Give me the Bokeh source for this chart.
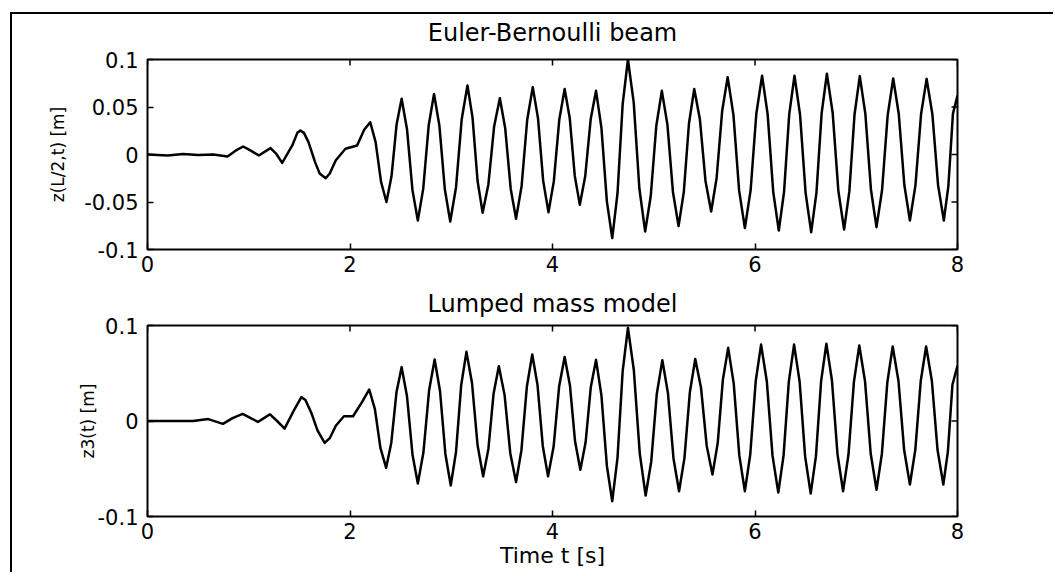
from bokeh.plotting import figure
from bokeh.layouts import column
from bokeh.models import FixedTicker, LinearAxis, Range1d
from bokeh.embed import file_html
from bokeh.resources import INLINE

# ---- data ----
t_beam = [0.00, 0.20, 0.35, 0.50, 0.65, 0.79, 0.87, 0.945, 1.02, 1.10, 1.16, 1.215, 1.27, 1.33,
          1.43, 1.48, 1.51, 1.545, 1.59, 1.655, 1.70, 1.76, 1.80, 1.86, 1.955, 2.07, 2.14, 2.20,
          2.253, 2.307, 2.36, 2.41, 2.46, 2.51, 2.563, 2.617, 2.67, 2.723, 2.777, 2.83,
          2.883, 2.937, 2.99, 3.047, 3.103, 3.16, 3.21, 3.26, 3.31, 3.367, 3.423, 3.48,
          3.533, 3.587, 3.64, 3.695, 3.75, 3.805, 3.857, 3.908, 3.96, 4.013, 4.067, 4.12,
          4.17, 4.22, 4.27, 4.323, 4.377, 4.43, 4.483, 4.537, 4.59, 4.642, 4.693, 4.745,
          4.802, 4.858, 4.915, 4.97, 5.025, 5.08, 5.135, 5.19, 5.245, 5.297, 5.348, 5.40,
          5.456, 5.511, 5.567, 5.621, 5.676, 5.73, 5.787, 5.843, 5.90, 5.957, 6.013, 6.07,
          6.125, 6.18, 6.235, 6.287, 6.338, 6.39, 6.445, 6.50, 6.555, 6.607, 6.658, 6.71,
          6.767, 6.823, 6.88, 6.932, 6.983, 7.035, 7.09, 7.145, 7.20, 7.255, 7.31, 7.365,
          7.42, 7.475, 7.53, 7.585, 7.64, 7.695, 7.752, 7.808, 7.865, 7.91, 7.955, 8.00]
z_beam = [0.000, -0.001, 0.0005, -0.0005, 0.000, -0.002, 0.004, 0.0084, 0.004, -0.001, 0.003,
          0.0067, 0.001, -0.0088, 0.0095, 0.0228, 0.0253, 0.0228, 0.013, -0.008, -0.020, -0.025,
          -0.020, -0.006, 0.006, 0.0095, 0.026, 0.034,
          0.013, -0.029, -0.050, -0.0229, 0.0315, 0.0586, 0.0266, -0.0375, -0.0695, -0.0362,
          0.0305, 0.0638, 0.0302, -0.0369, -0.0705, -0.0347, 0.0368, 0.0726, 0.0391, -0.0279,
          -0.0614, -0.0312, 0.0291, 0.0593, 0.0276, -0.0360, -0.0677, -0.0331, 0.0363, 0.0709,
          0.0380, -0.0278, -0.0607, -0.0283, 0.0366, 0.069, 0.0385, -0.0225, -0.053, -0.0230,
          0.0370, 0.067, 0.0283, -0.0493, -0.088, -0.041, 0.053, 0.100, 0.0548, -0.0358,
          -0.081, -0.044, 0.030, 0.067, 0.0314, -0.0398, -0.0754, -0.0393, 0.0329, 0.069,
          0.0368, -0.0278, -0.060, -0.0247, 0.0461, 0.0814, 0.0417, -0.0378, -0.0775, -0.0374,
          0.0429, 0.083, 0.0423, -0.0393, -0.080, -0.0393, 0.0423, 0.083, 0.0418, -0.0406,
          -0.0818, -0.0401, 0.0433, 0.085, 0.044, -0.038, -0.079, -0.0386, 0.0421, 0.0825,
          0.0428, -0.0368, -0.0765, -0.0374, 0.0409, 0.080, 0.0426, -0.0321, -0.0695, -0.0322,
          0.0423, 0.0796, 0.0423, -0.0322, -0.0695, -0.033, 0.043, 0.062]

t_lump = [0.00, 0.45, 0.60, 0.745, 0.84, 0.94, 1.02, 1.09, 1.15, 1.21, 1.28, 1.354, 1.45, 1.52,
          1.56, 1.62, 1.68, 1.75, 1.80, 1.86, 1.94, 2.03, 2.12, 2.19,
          2.246, 2.301, 2.357, 2.408, 2.459, 2.51, 2.563, 2.617, 2.67, 2.725, 2.781, 2.836,
          2.889, 2.942, 2.995, 3.047, 3.098, 3.15, 3.205, 3.26, 3.315, 3.367, 3.418, 3.47,
          3.527, 3.583, 3.64, 3.693, 3.747, 3.80, 3.852, 3.904, 3.956, 4.011, 4.065, 4.12,
          4.172, 4.223, 4.275, 4.327, 4.378, 4.43, 4.483, 4.537, 4.59, 4.642, 4.693, 4.745,
          4.803, 4.862, 4.92, 4.975, 5.03, 5.085, 5.14, 5.195, 5.25, 5.303, 5.357, 5.41,
          5.467, 5.523, 5.58, 5.632, 5.683, 5.735, 5.79, 5.845, 5.90, 5.953, 6.007, 6.06,
          6.117, 6.173, 6.23, 6.282, 6.334, 6.386, 6.441, 6.495, 6.55, 6.602, 6.653, 6.705,
          6.76, 6.815, 6.87, 6.923, 6.977, 7.03, 7.087, 7.143, 7.20, 7.253, 7.307, 7.36,
          7.417, 7.473, 7.53, 7.583, 7.637, 7.69, 7.747, 7.803, 7.86, 7.905, 7.95, 8.00]
z_lump = [0.000, 0.000, 0.002, -0.003, 0.003, 0.0075, 0.003, -0.001, 0.003, 0.007, 0.000, -0.008,
          0.012, 0.025, 0.022, 0.008, -0.010, -0.023, -0.018, -0.005, 0.005, 0.005, 0.020, 0.033,
          0.0125, -0.0285, -0.049, -0.0227, 0.0301, 0.0564, 0.0259, -0.0350, -0.0655, -0.0330,
          0.0319, 0.0644, 0.0314, -0.0345, -0.0675, -0.0325, 0.0374, 0.0724, 0.0398, -0.0254,
          -0.058, -0.0292, 0.0286, 0.0574, 0.0271, -0.0337, -0.064, -0.0306, 0.0362, 0.0696,
          0.0377, -0.0261, -0.058, -0.0268, 0.0358, 0.067, 0.0375, -0.0215, -0.051, -0.0223,
          0.0353, 0.064, 0.027, -0.047, -0.084, -0.0386, 0.0522, 0.0976, 0.0537, -0.0341,
          -0.078, -0.0426, 0.0283, 0.0637, 0.0294, -0.0392, -0.0735, -0.0389, 0.0304, 0.065,
          0.0348, -0.0258, -0.056, -0.0229, 0.0435, 0.0766, 0.0391, -0.0360, -0.0735, -0.0351,
          0.0416, 0.080, 0.0413, -0.0363, -0.075, -0.0363, 0.0413, 0.080, 0.041, -0.037,
          -0.076, -0.0368, 0.0418, 0.081, 0.0424, -0.0349, -0.0735, -0.0354, 0.0409, 0.079,
          0.0413, -0.0343, -0.072, -0.0345, 0.0405, 0.078, 0.0419, -0.0304, -0.0665, -0.0304,
          0.0419, 0.078, 0.0419, -0.0304, -0.0665, -0.032, 0.038, 0.058]

x_ticks = [0, 2, 4, 6, 8]
x_tick_labels = ["0", "2", "4", "6", "8"]
y_ticks_top = [-0.1, -0.05, 0, 0.05, 0.1]
y_labels_top = ["-0.1", "-0.05", "0", "0.05", "0.1"]
y_ticks_bot = [-0.1, 0, 0.1]
y_labels_bot = ["-0.1", "0", "0.1"]

FONT = "DejaVu Sans"
FIG_W = 1043
LEFT = 135
FRAME_W = 810


def style_axis(ax, ticks, labels):
    ax.ticker = FixedTicker(ticks=ticks)
    ax.minor_tick_line_color = None
    ax.major_tick_in = 6
    ax.major_tick_out = 0
    ax.major_tick_line_color = "black"
    ax.major_tick_line_width = 1.5
    ax.axis_line_color = None
    ax.major_label_text_font = FONT
    ax.major_label_text_color = "black"
    ax.major_label_text_font_size = "21px"
    ax.major_label_overrides = {t: l for t, l in zip(ticks, labels)}


def make_fig(title, t, z, yticks, ylabels, ylabel, xlabel, height, mtop, mbottom,
             title_standoff, ylabel_standoff, borders):
    p = figure(width=FIG_W, height=height, output_backend="svg", toolbar_location=None,
               x_range=Range1d(0, 8), y_range=Range1d(-0.1, 0.1),
               min_border_left=LEFT, min_border_right=FIG_W - LEFT - FRAME_W,
               min_border_top=mtop, min_border_bottom=mbottom, styles=borders)
    p.xgrid.visible = False
    p.ygrid.visible = False
    p.outline_line_color = "black"
    p.outline_line_width = 2
    p.background_fill_color = "white"
    p.border_fill_color = "white"
    style_axis(p.xaxis[0], x_ticks, x_tick_labels)
    style_axis(p.yaxis[0], yticks, ylabels)
    p.xaxis[0].major_label_standoff = 6
    p.yaxis[0].major_label_standoff = 9
    p.yaxis[0].axis_label = ylabel
    p.yaxis[0].axis_label_text_font = FONT
    p.yaxis[0].axis_label_text_font_size = "17px"
    p.yaxis[0].axis_label_text_font_style = "normal"
    p.yaxis[0].axis_label_text_color = "black"
    p.yaxis[0].axis_label_standoff = ylabel_standoff
    if xlabel:
        p.xaxis[0].axis_label = xlabel
        p.xaxis[0].axis_label_text_font = FONT
        p.xaxis[0].axis_label_text_font_size = "22px"
        p.xaxis[0].axis_label_text_font_style = "normal"
        p.xaxis[0].axis_label_text_color = "black"
        p.xaxis[0].axis_label_standoff = 1
    # the subplot title is carried by an upper axis without tick labels
    top = LinearAxis(ticker=FixedTicker(ticks=[]), axis_line_color=None,
                     major_tick_line_color=None, minor_tick_line_color=None,
                     axis_label=title, axis_label_text_font=FONT,
                     axis_label_text_font_size="24px", axis_label_text_font_style="normal",
                     axis_label_text_color="black", axis_label_standoff=title_standoff,
                     major_label_standoff=0)
    p.add_layout(top, "above")
    # inward tick marks on the upper and right edges of the box
    p.scatter(x_ticks, [0.1] * len(x_ticks), marker="dash", size=12, angle=1.5708,
              line_color="black", line_width=1.5)
    p.scatter([8] * len(yticks), yticks, marker="dash", size=12,
              line_color="black", line_width=1.5)
    p.line(t, z, line_color="black", line_width=2.5, line_join="round")
    return p


p1 = make_fig("Euler-Bernoulli beam", t_beam, z_beam, y_ticks_top, y_labels_top,
              "z(L/2,t) [m]", None, 272, 45, 37, 13, 13,
              {"border-left": "2px solid black", "border-top": "2px solid black"})
p2 = make_fig("Lumped mass model", t_lump, z_lump, y_ticks_bot, y_labels_bot,
              "z3(t) [m]", "Time t [s]", 288, 41, 56, 8, -3,
              {"border-left": "2px solid black"})

layout = column(p1, p2, spacing=0, margin=(12, 0, 0, 10))

open("out.html", "w").write(file_html(layout, INLINE))
